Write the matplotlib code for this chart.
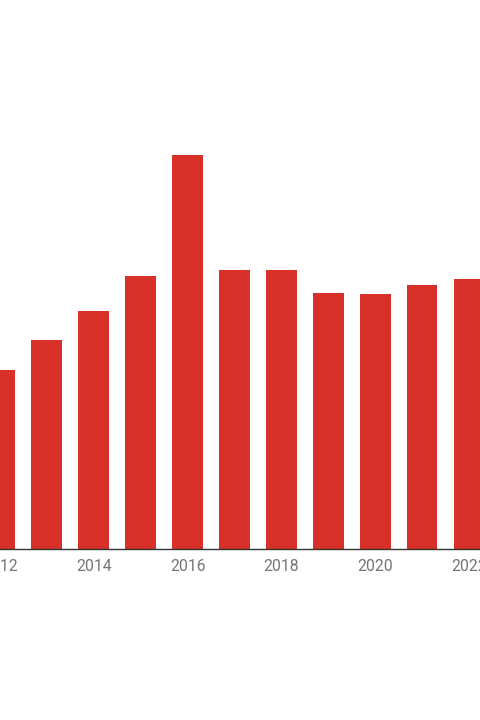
import matplotlib
matplotlib.use("Agg")
import matplotlib.pyplot as plt

years = [2012, 2013, 2014, 2015, 2016, 2017, 2018, 2019, 2020, 2021, 2022]
values = [179, 209, 238.6, 273.3, 394.3, 279, 279.3, 256.3, 255.6, 264, 270.6]
tick_years = [2012, 2014, 2016, 2018, 2020, 2022]
tick_labels = [str(y) for y in tick_years]

fig = plt.figure(figsize=(4.8, 7.2), dpi=100)
base = (720 - 549.3) / 720
ax = fig.add_axes([0, base, 1, 1 - base])
ax.bar(years, values, width=0.657, color="#d8312a", zorder=2)
ax.set_xlim(2012.066, 2022.235)
ax.set_ylim(0, 549.3)
for s in ["top", "right", "left"]:
    ax.spines[s].set_visible(False)
ax.spines["bottom"].set_color("#333333")
ax.spines["bottom"].set_linewidth(1.0)
ax.set_yticks([])
ax.set_xticks(tick_years)
ax.set_xticklabels(tick_labels, fontfamily="Roboto", fontsize=11.3, color="#757575")
ax.tick_params(axis="x", length=0, pad=7)
fig.savefig("out.png", dpi=100)
